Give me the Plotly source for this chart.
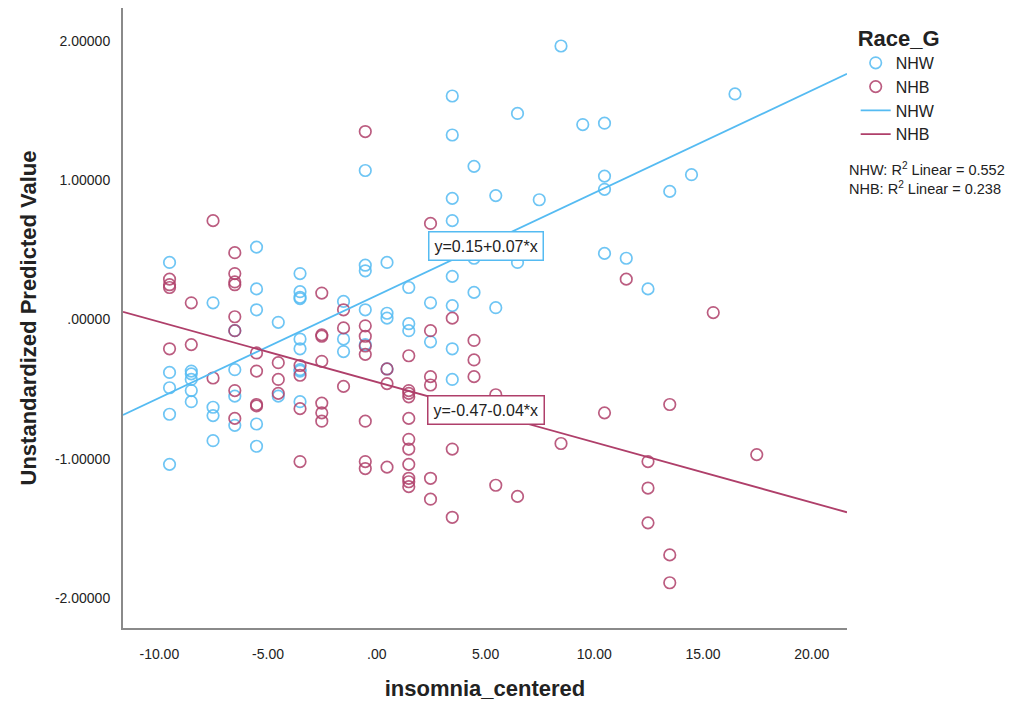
import plotly.graph_objects as go

# ---------------- data ----------------
nhw_x = ([-9.53] * 5 + [-8.53] * 5 + [-7.53] * 4 + [-6.53] * 4 + [-5.53] * 5 +
         [-4.53] * 2 + [-3.53] * 9 + [-1.53] * 3 + [-0.53] * 5 + [0.47] * 4 +
         [1.47] * 3 + [2.47] * 2 + [3.47] * 8 + [4.47] * 3 + [5.47] * 2 +
         [6.47] * 2 + [7.47] + [8.47] + [9.47] + [10.47] * 4 + [11.47] +
         [12.47] + [13.47] + [14.47] + [16.47])
nhw_y = [0.41, -0.38, -0.49, -0.68, -1.04,
         -0.37, -0.39, -0.43, -0.51, -0.59,
         0.12, -0.63, -0.69, -0.87,
         -0.08, -0.36, -0.55, -0.76,
         0.52, 0.22, 0.07, -0.75, -0.91,
         -0.02, -0.55,
         0.33, 0.20, 0.16, 0.15, -0.14, -0.21, -0.36, -0.37, -0.59,
         0.13, -0.14, -0.23,
         1.07, 0.39, 0.35, 0.07, -0.18,
         0.41, 0.045, 0.01, -0.355,
         0.23, -0.03, -0.08,
         0.12, -0.16,
         1.605, 1.325, 0.87, 0.71, 0.31, 0.10, -0.21, -0.43,
         1.10, 0.44, 0.195,
         0.89, 0.085,
         1.48, 0.41,
         0.86,
         1.964,
         1.40,
         1.41, 1.03, 0.935, 0.475,
         0.44,
         0.22,
         0.92,
         1.04,
         1.62]

nhb_x = ([-9.53] * 4 + [-8.53] * 2 + [-7.53] * 2 + [-6.53] * 8 + [-5.53] * 4 +
         [-4.53] * 3 + [-3.53] * 4 + [-2.53] * 7 + [-1.53] * 3 + [-0.53] * 8 +
         [0.47] * 3 + [1.47] * 11 + [2.47] * 6 + [3.47] * 3 + [4.47] * 3 +
         [5.47] * 2 + [6.47] + [8.47] + [10.47] + [11.47] + [12.47] * 3 +
         [13.47] * 3 + [15.47] + [17.47])
nhb_y = [0.29, 0.25, 0.23, -0.21,
         0.12, -0.18,
         0.71, -0.42,
         0.48, 0.33, 0.27, 0.25, 0.02, -0.08, -0.51, -0.71,
         -0.24, -0.37, -0.61, -0.62,
         -0.31, -0.43, -0.53,
         -0.33, -0.40, -0.64, -1.02,
         0.19, -0.11, -0.12, -0.30, -0.60, -0.67, -0.73,
         0.07, -0.06, -0.48,
         1.35, -0.045, -0.12, -0.19, -0.25, -0.73, -1.02, -1.07,
         -0.355, -0.46, -1.06,
         -0.26, -0.51, -0.53, -0.555, -0.71, -0.86, -0.93, -1.04, -1.14, -1.165, -1.20,
         0.69, -0.08, -0.41, -0.47, -1.14, -1.29,
         0.01, -0.93, -1.42,
         -0.15, -0.29, -0.41,
         -0.54, -1.19,
         -1.27,
         -0.89,
         -0.67,
         0.29,
         -1.02, -1.21, -1.46,
         -0.61, -1.69, -1.89,
         0.05,
         -0.97]

groups = ["NHW", "NHB"]
fit_intercept = [0.173, -0.449]
fit_slope = [0.0736, -0.04325]
fit_labels = ["y=0.15+0.07*x", "y=-0.47-0.04*x"]
r2_values = ["0.552", "0.238"]

x_range = [-11.67, 21.62]
y_range = [-2.215, 2.237]
x_ticks = [-10, -5, 0, 5, 10, 15, 20]
x_ticktext = ["-10.00", "-5.00", ".00", "5.00", "10.00", "15.00", "20.00"]
y_ticks = [-2, -1, 0, 1, 2]
y_ticktext = ["-2.00000", "-1.00000", ".00000", "1.00000", "2.00000"]

# ---------------- style ----------------
BLUE = "#55BBF2"
RED = "#AF3F6A"
FONT = "Liberation Sans, Arial, sans-serif"
TXT = "#222222"

fig = go.Figure()

fig.add_trace(go.Scatter(
    x=nhw_x, y=nhw_y, mode="markers", name=groups[0],
    marker=dict(symbol="circle-open", size=11.5, color=BLUE, opacity=0.85,
                line=dict(width=1.7, color=BLUE)),
))
fig.add_trace(go.Scatter(
    x=nhb_x, y=nhb_y, mode="markers", name=groups[1],
    marker=dict(symbol="circle-open", size=11.5, color=RED, opacity=0.85,
                line=dict(width=1.7, color=RED)),
))

colors = [BLUE, RED]
for i, g in enumerate(groups):
    xs = x_range
    ys = [fit_intercept[i] + fit_slope[i] * v for v in xs]
    fig.add_trace(go.Scatter(
        x=xs, y=ys, mode="lines", name=g,
        line=dict(color=colors[i], width=1.8),
    ))

# equation label boxes, placed on the fit lines
label_x = 5.02
label_y = [0.525, -0.653]
for i in range(2):
    fig.add_annotation(
        x=label_x, y=label_y[i], xref="x", yref="y",
        text=fit_labels[i], showarrow=False,
        font=dict(family=FONT, size=16, color=TXT),
        bgcolor="white", bordercolor=colors[i], borderwidth=1.5, borderpad=5,
    )

fig.add_annotation(
    x=1.0, y=0.758, xref="paper", yref="paper", xanchor="left", yanchor="top",
    text=f"NHW: R<sup>2</sup> Linear = {r2_values[0]}<br>NHB: R<sup>2</sup> Linear = {r2_values[1]}",
    showarrow=False, align="left",
    font=dict(family=FONT, size=14.5, color=TXT),
)

fig.update_layout(
    width=1020, height=706,
    margin=dict(l=123, r=173, t=8, b=78),
    paper_bgcolor="white", plot_bgcolor="white",
    font=dict(family=FONT, color=TXT),
    showlegend=True,
    legend=dict(
        x=1.012, y=0.985, xanchor="left", yanchor="top",
        title=dict(text="<b>Race_G</b>", font=dict(family=FONT, size=22, color=TXT)),
        font=dict(family=FONT, size=16, color=TXT),
        bgcolor="rgba(0,0,0,0)", itemwidth=30,
    ),
    xaxis=dict(
        range=x_range, tickvals=x_ticks, ticktext=x_ticktext,
        showgrid=False, zeroline=False, showline=True, linecolor="#8a8a8a", linewidth=2,
        ticks="", ticklabelstandoff=12,
        tickfont=dict(family=FONT, size=14, color=TXT),
        title=dict(text="<b>insomnia_centered</b>", standoff=20,
                   font=dict(family=FONT, size=22, color=TXT)),
    ),
    yaxis=dict(
        range=y_range, tickvals=y_ticks, ticktext=y_ticktext,
        showgrid=False, zeroline=False, showline=True, linecolor="#8a8a8a", linewidth=2,
        ticks="", ticklabelstandoff=8,
        tickfont=dict(family=FONT, size=14, color=TXT),
        title=dict(text="<b>Unstandardized Predicted Value</b>", standoff=12,
                   font=dict(family=FONT, size=22, color=TXT)),
    ),
)

fig.write_html("out.html")
